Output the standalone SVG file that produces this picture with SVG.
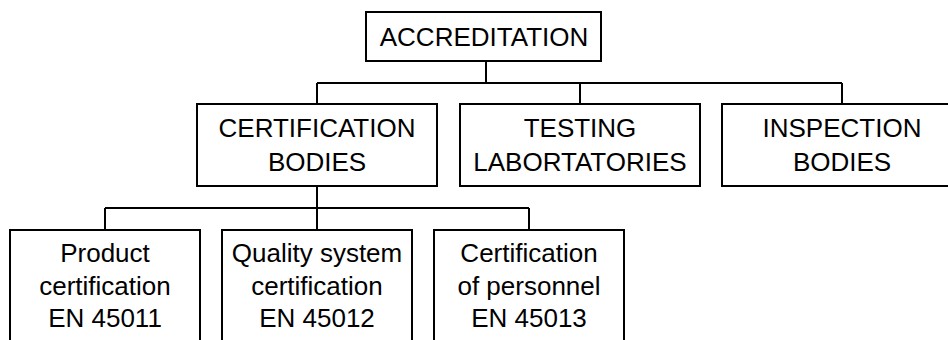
<svg xmlns="http://www.w3.org/2000/svg" width="948" height="340" viewBox="0 0 948 340">
<style>
rect{fill:#fff;stroke:#000;stroke-width:2}
text{font-family:"Liberation Sans",Arial,sans-serif;font-size:26px;fill:#000;text-anchor:middle}
.c{fill:none;stroke:#000;stroke-width:2}
</style>
<rect x="0" y="0" width="948" height="340" style="stroke:none"/>
<g id="connectors">
<path class="c" d="M486 61V83M317 83H842M317 83V104M580 83V104M842 83V104"/>
<path class="c" d="M317 186V208M105 208H529M105 208V230M317 208V230M529 208V230"/>
</g>
<g id="accreditation"><rect x="366" y="12" width="235" height="49"/><text x="484" y="46">ACCREDITATION</text></g>
<g id="certification-bodies"><rect x="197" y="104" width="240" height="82"/><text x="317" y="137">CERTIFICATION</text><text x="317" y="171">BODIES</text></g>
<g id="testing-laboratories"><rect x="460" y="104" width="240" height="82"/><text x="580" y="137">TESTING</text><text x="580" y="171">LABORTATORIES</text></g>
<g id="inspection-bodies"><rect x="722" y="104" width="240" height="82"/><text x="842" y="137">INSPECTION</text><text x="842" y="171">BODIES</text></g>
<g id="product-certification"><rect x="10" y="230" width="190" height="120"/><text x="105" y="262">Product</text><text x="105" y="295">certification</text><text x="105" y="327">EN 45011</text></g>
<g id="quality-system-certification"><rect x="222" y="230" width="190" height="120"/><text x="317" y="262">Quality system</text><text x="317" y="295">certification</text><text x="317" y="327">EN 45012</text></g>
<g id="certification-of-personnel"><rect x="434" y="230" width="190" height="120"/><text x="529" y="262">Certification</text><text x="529" y="295">of personnel</text><text x="529" y="327">EN 45013</text></g>
</svg>
